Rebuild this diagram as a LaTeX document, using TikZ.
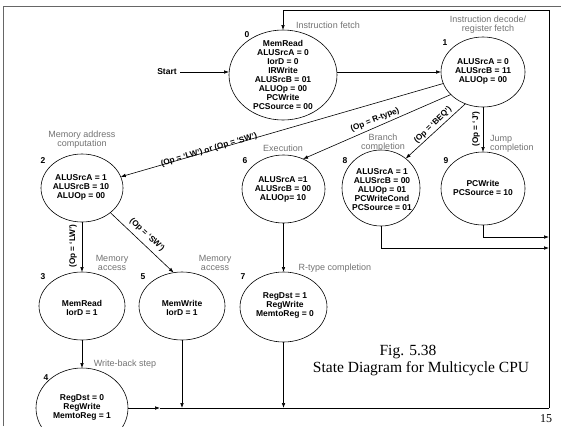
\documentclass[tikz,border=0pt]{standalone}
\usepackage{fontspec}
\setmainfont{Liberation Sans}
\newfontfamily\tmfont{Liberation Serif}
\usetikzlibrary{shapes.geometric,arrows.meta}
\begin{document}
\begin{tikzpicture}[x=1pt,y=-1pt,
  stbox/.style={draw, ellipse, line width=0.6pt, inner sep=0pt, outer sep=0pt},
  txt/.style={font=\fontsize{8.5}{9}\selectfont\bfseries, align=center, inner sep=0pt},
  gr/.style={font=\fontsize{9}{9.3}\selectfont, text=black!55, align=center, inner sep=0pt},
  num/.style={font=\fontsize{8.5}{9}\selectfont\bfseries, inner sep=0pt},
  cond/.style={font=\fontsize{8.2}{9}\selectfont\bfseries, inner sep=0pt},
  arr/.style={line width=0.6pt, -{Latex[length=5pt,width=3.6pt]}},
  ln/.style={line width=0.6pt},
  captext/.style={font=\tmfont\fontsize{15.5}{16}\selectfont, inner sep=0pt}]
\useasboundingbox (0,0) rectangle (561,426);
\fill[white] (0,0) rectangle (561,426);
\clip (0,0) rectangle (561,426);

% frame
\draw[black!60, line width=1pt] (3.5,426) -- (3.5,6.5) -- (561,6.5);

% states
\node[stbox, minimum width=108, minimum height=90] (s0) at (283,75) {};
\node[stbox, minimum width=84, minimum height=70] (s1) at (483,72) {};
\node[stbox, minimum width=82, minimum height=68] (s2) at (82,188) {};
\node[stbox, minimum width=83, minimum height=68] (s6) at (283.5,189) {};
\node[stbox, minimum width=78, minimum height=76] (s8) at (381,188) {};
\node[stbox, minimum width=84, minimum height=73] (s9) at (483,188.5) {};
\node[stbox, minimum width=86, minimum height=68] (s3) at (82,306) {};
\node[stbox, minimum width=86, minimum height=68] (s5) at (182,306) {};
\node[stbox, minimum width=87, minimum height=70] (s7) at (283.5,307) {};
\node[stbox, minimum width=92, minimum height=80] (s4) at (82,408) {};

% state contents
\node[txt] (t0) at (283,75) {MemRead\\ALUSrcA = 0\\IorD = 0\\IRWrite\\ALUSrcB = 01\\ALUOp = 00\\PCWrite\\PCSource = 00};
\node[txt] (t1) at (483,71) {ALUSrcA = 0\\ALUSrcB = 11\\ALUOp = 00};
\node[txt] (t2) at (81,187) {ALUSrcA = 1\\ALUSrcB = 10\\ALUOp = 00};
\node[txt] (t6) at (283,189) {ALUSrcA =1\\ALUSrcB = 00\\ALUOp= 10};
\node[txt] (t8) at (382,190) {ALUSrcA = 1\\ALUSrcB = 00\\ALUOp = 01\\PCWriteCond\\PCSource = 01};
\node[txt] (t9) at (483,187.5) {PCWrite\\PCSource = 10};
\node[txt] (t3) at (82,307.5) {MemRead\\IorD = 1};
\node[txt] (t5) at (182,307.5) {MemWrite\\IorD = 1};
\node[txt] (t7) at (285,305) {RegDst = 1\\RegWrite\\MemtoReg = 0};
\node[txt] (t4) at (82,407) {RegDst = 0\\RegWrite\\MemtoReg = 1};

% state numbers
\node[num] (n0) at (247,35) {0};
\node[num] (n1) at (445,43) {1};
\node[num] (n2) at (43,161) {2};
\node[num] (n6) at (245,161) {6};
\node[num] (n8) at (345,161) {8};
\node[num] (n9) at (446,161) {9};
\node[num] (n3) at (43,277) {3};
\node[num] (n5) at (143,277) {5};
\node[num] (n7) at (243,277) {7};
\node[num] (n4) at (46,378) {4};

% gray labels
\node[gr] (g0) at (328,25) {Instruction fetch};
\node[gr] (g1) at (488,24.5) {Instruction decode/\\register fetch};
\node[gr] (g2) at (82,139.5) {Memory address\\computation};
\node[gr] (g6) at (283,148) {Execution};
\node[gr] (g8) at (383,143) {Branch\\completion};
\node[gr, align=left, anchor=west] (g9) at (490,143.5) {Jump\\completion};
\node[gr] (g3) at (112,263) {Memory\\access};
\node[gr] (g5) at (215,263) {Memory\\access};
\node[gr] (g7) at (335,268) {R-type completion};
\node[gr] (g4) at (125,364) {Write-back step};

% start
\node[num] (start) at (167,72) {Start};

% coordinates of the return path
\coordinate (br) at (549,408);
\coordinate (tr) at (549,10);
\coordinate (tl) at (283,10);
\coordinate (m4) at (160,408);
\coordinate (r8) at (549,248);
\coordinate (r9) at (549,237);
\coordinate (st) at (180,72);

% connectors
\draw[arr] (st) -- (s0.west |- st);
\draw[arr] (s0.east |- s1.west) -- (s1.west);
\draw[arr] (s1) -- (s2);
\draw[arr] (s1.215) -- (s6.57);
\draw[arr] (s1.241) -- (s8.50);
\draw[arr] (s1.south) -- (s9.north);
\draw[arr] (s2.south) -- (s3.north);
\draw[arr] (s2.-41) -- (s5.104);
\draw[arr] (s3.south) -- (s4.north);
\draw[arr] (s6.south) -- (s7.north);
\draw[arr] (s4.east) -- (m4);
\draw[ln] (m4) -- (br);
\draw[arr] (s5.south) -- (s5.south |- br);
\draw[arr] (s7.south) -- (s7.south |- br);
\draw[arr] (s8.south) |- (r8);
\draw[arr] (s9.south) |- (r9);
\draw[ln] (br) -- (tr) -- (tl);
\draw[arr] (tl) -- (tl |- s0.north);

% conditions
\node[cond, rotate=16.4] (c2) at (209,150) {(Op = `LW') or (Op = `SW')};
\node[cond, rotate=22] (c6) at (375,120) {(Op = R-type)};
\node[cond, rotate=44] (c8) at (433,125) {(Op = `BEQ')};
\node[cond, rotate=90] (c9) at (476,129) {(Op = `J')};
\node[cond, rotate=90] (c3) at (73,246) {(Op = `LW')};
\node[cond, rotate=-43] (c5) at (147,235) {(Op = `SW')};

% caption
\node[captext] (fig) at (408,352) {Fig. 5.38};
\node[captext] (capt) at (421,369) {State Diagram for Multicycle CPU};
\node[font=\tmfont\fontsize{12}{12}\selectfont, inner sep=0pt] (pg) at (546,419) {15};
\end{tikzpicture}
\end{document}
